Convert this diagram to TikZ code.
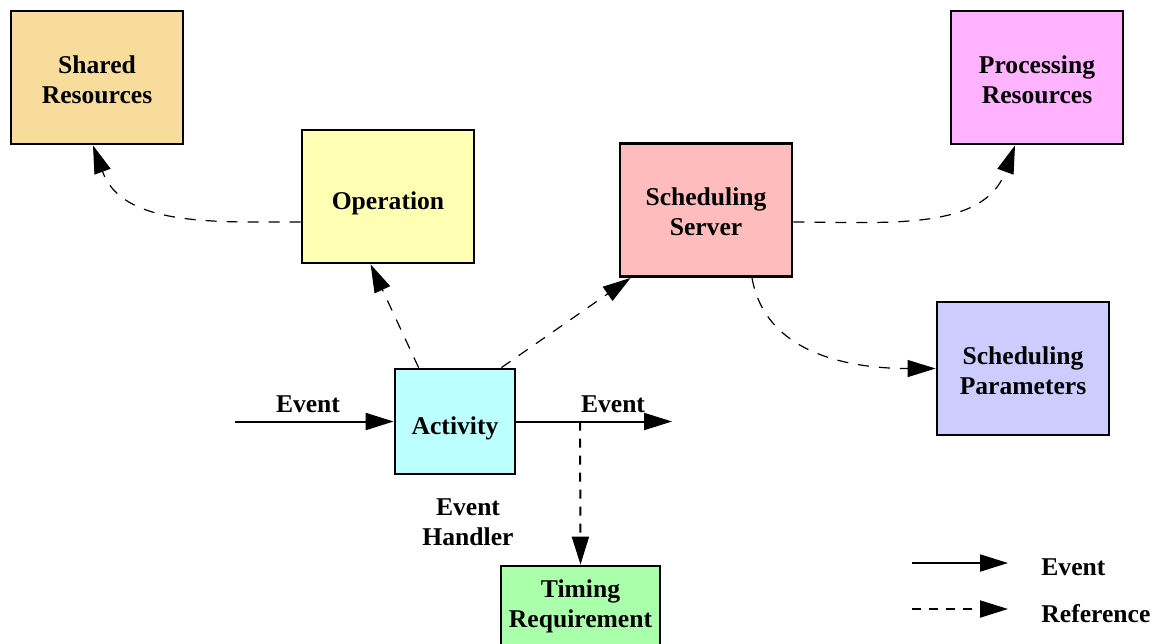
\documentclass[tikz,border=0pt]{standalone}
\usepackage{fontspec}
\setmainfont{Liberation Serif}
\usetikzlibrary{arrows.meta}
\definecolor{sharedfill}{RGB}{248,220,156}
\definecolor{opfill}{RGB}{255,255,180}
\definecolor{serverfill}{RGB}{255,188,188}
\definecolor{procfill}{RGB}{255,178,255}
\definecolor{paramfill}{RGB}{204,204,255}
\definecolor{actfill}{RGB}{188,255,255}
\definecolor{timingfill}{RGB}{170,255,170}
\tikzstyle{block} = [rectangle, draw, line width=1.4pt, inner sep=0pt, minimum width=86pt, minimum height=66.5pt]
\tikzstyle{label} = [align=center, inner sep=0pt, font=\bfseries\fontsize{12.8}{15}\selectfont]
\tikzstyle{event} = [line width=1pt, -{Triangle[length=14pt,width=8.5pt]}]
\tikzstyle{reference} = [line width=0.6pt, dash pattern=on 5.5pt off 5pt, -{Triangle[length=14pt,width=8.5pt]}]
\tikzstyle{thickref} = [reference, line width=1pt, dash pattern=on 4.5pt off 4pt]

\begin{document}
\begin{tikzpicture}[x=0.5pt,y=-0.5pt]
    \useasboundingbox (0,0) rectangle (1159,643);
    \clip (0,0) rectangle (1159,643);

    \node [block, fill=sharedfill] (shared) at (97,77.5) {};
    \node [block, fill=opfill] (op) at (388,196.5) {};
    \node [block, fill=serverfill] (server) at (706,210) {};
    \node [block, fill=procfill] (proc) at (1037,77.5) {};
    \node [block, fill=paramfill] (params) at (1023,368.5) {};
    \node [block, fill=actfill, minimum width=60pt, minimum height=52.5pt] (act) at (455,421.5) {};
    \node [block, fill=timingfill, minimum width=79.5pt, minimum height=40pt] (timing) at (580.5,606) {};

    % block names
    \node [label] (sharedname) at ([yshift=-1pt]shared) {Shared\\Resources};
    \node [label] (opname) at ([yshift=-3.5pt]op) {Operation};
    \node [label] (servername) at ([yshift=-1pt]server) {Scheduling\\Server};
    \node [label] (procname) at ([yshift=-1pt]proc) {Processing\\Resources};
    \node [label] (paramsname) at ([yshift=-1pt]params) {Scheduling\\Parameters};
    \node [label] (actname) at ([yshift=-3.5pt]act) {Activity};
    \node [label] (timingname) at (timing) {Timing\\Requirement};

    \coordinate (in) at (235,421.5);
    \coordinate (out) at (672,421.5);
    \coordinate (tap) at (580,421.5);

    % events through the activity
    \draw[event] (in) -- (act.west);
    \draw[event] (act.east) -- (out);
    \node [label] (inlabel) at (308,404) {Event};
    \node [label] (outlabel) at (613,404) {Event};
    \node [label] (handler) at (468,522) {Event\\Handler};

    % references
    \draw[thickref] (tap) -- (timing.north);
    \draw[reference] ([xshift=12.5pt]act.north west) -- ([xshift=35pt]op.south west);
    \draw[reference] ([xshift=-7.5pt]act.north east) -- ([xshift=6pt]server.south west);
    \draw[reference] ([yshift=-12.75pt]op.west) to[out=180,in=-70] ([xshift=-2pt]shared.south);
    \draw[reference] ([yshift=-6pt]server.east) to[out=0,in=-110] ([xshift=-11pt]proc.south);
    \draw[reference] ([xshift=23pt]server.south) to[out=-80,in=180] (params.west);

    % legend
    \coordinate (leg1) at (912,563);
    \coordinate (leg1e) at (1008,563);
    \coordinate (leg2) at (912,609);
    \coordinate (leg2e) at (1008,609);
    \draw[event] (leg1) -- (leg1e);
    \draw[thickref] (leg2) -- (leg2e);
    \node [label, anchor=west] (legevent) at (1041,567) {Event};
    \node [label, anchor=west] (legref) at (1041,614) {Reference};
\end{tikzpicture}
\end{document}
